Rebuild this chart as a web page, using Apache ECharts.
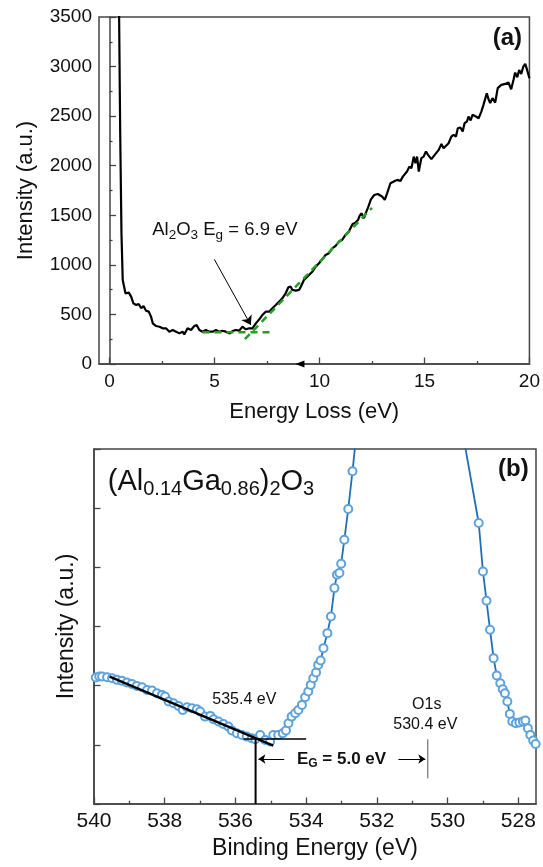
<!DOCTYPE html>
<html><head><meta charset="utf-8">
<script src="https://cdn.jsdelivr.net/npm/echarts@6/dist/echarts.min.js"></script>
<style>html,body{margin:0;padding:0;background:#fff}#c{width:543px;height:867px}</style>
</head><body><div id="c"></div>
<script>
// ---------- Panel (a): REELS energy loss ----------
const lossEnergy = [0.44, 0.51, 0.57, 0.63, 0.76, 0.92, 1.03, 1.14, 1.27, 1.39, 1.51, 1.62, 1.74, 1.87, 1.98, 2.06, 2.22, 2.38, 2.53, 2.69,
  2.85, 3.01, 3.17, 3.33, 3.48, 3.56, 3.72, 3.88, 4.04, 4.15, 4.28, 4.43, 4.59, 4.75, 4.91, 5.07, 5.23, 5.38, 5.54, 5.73,
  5.86, 6.02, 6.18, 6.33, 6.49, 6.65, 6.81, 6.97, 7.13, 7.28, 7.44, 7.60, 7.76, 7.92, 8.08, 8.23, 8.39, 8.52, 8.63, 8.71,
  8.87, 9.03, 9.11, 9.26, 9.42, 9.50, 9.66, 9.82, 9.98, 10.13, 10.29, 10.45, 10.61, 10.77, 10.93, 11.08, 11.24, 11.40, 11.58, 11.71,
  11.84, 11.91, 12.00, 12.12, 12.20, 12.33, 12.45, 12.61, 12.78, 12.98, 13.11, 13.22, 13.38, 13.54, 13.70, 13.86, 13.97, 14.06, 14.17, 14.28,
  14.38, 14.49, 14.57, 14.65, 14.73, 14.85, 14.96, 15.07, 15.17, 15.33, 15.49, 15.68, 15.81, 15.91, 16.00, 16.15, 16.28, 16.39, 16.50, 16.59,
  16.71, 16.82, 16.91, 17.02, 17.10, 17.20, 17.29, 17.45, 17.58, 17.71, 17.81, 17.89, 17.97, 18.05, 18.13, 18.24, 18.37, 18.49, 18.66, 18.85,
  19.00, 19.13, 19.24, 19.32, 19.42, 19.51, 19.61, 19.71, 19.80, 19.89, 20.00];
const lossIntensity = [3900, 2327, 1318, 848, 713, 720, 680, 612, 595, 605, 562, 585, 538, 528, 477, 410, 383, 376, 360, 360,
  326, 343, 326, 309, 326, 299, 360, 343, 383, 393, 343, 326, 343, 326, 326, 343, 326, 336, 326, 309,
  333, 343, 336, 376, 350, 360, 360, 410, 450, 494, 528, 528, 562, 595, 629, 663, 713, 774, 780, 747,
  740, 747, 780, 848, 881, 874, 931, 982, 1016, 1056, 1100, 1117, 1167, 1191, 1235, 1251, 1302, 1336, 1413, 1426,
  1453, 1493, 1520, 1470, 1520, 1587, 1661, 1705, 1715, 1689, 1655, 1722, 1823, 1840, 1857, 1847, 1890, 1874, 1941, 1991,
  1975, 2092, 2025, 2092, 1941, 2076, 2092, 2143, 2109, 2066, 2109, 2160, 2220, 2177, 2187, 2227, 2294, 2311, 2294, 2378,
  2385, 2345, 2429, 2445, 2496, 2456, 2513, 2496, 2479, 2546, 2614, 2604, 2731, 2671, 2631, 2681, 2637, 2782, 2815, 2825,
  2839, 2771, 2865, 2939, 2892, 2966, 2926, 3000, 3027, 2966, 2882];
const lossXTicks = [0, 5, 10, 15, 20];
const lossXMinorTicks = [2.5, 7.5, 12.5, 17.5];
const edgeFlatA = [[4.43, 320], [7.76, 320]];
const edgeSlopeA = [[6.45, 250], [12.5, 1575]];
const arrowA = [[4.99, 1056], [6.73, 393]];
const labelPosA = [5.5, 1350];
const tagPosA = [18.95, 3280];
const axisMarkA = [9.07, 0];

// ---------- Panel (b): XPS O1s loss ----------
const bindingEnergy = [539.95, 539.85, 539.77, 539.63, 539.49, 539.35, 539.21, 539.07, 538.93, 538.79, 538.64, 538.50, 538.36, 538.22, 538.08, 537.99, 537.89, 537.75, 537.61, 537.49,
  537.37, 537.23, 537.09, 537.00, 536.86, 536.71, 536.62, 536.48, 536.34, 536.20, 536.10, 535.96, 535.82, 535.68, 535.54, 535.44, 535.30, 535.16, 535.02, 534.93,
  534.79, 534.66, 534.57, 534.50, 534.41, 534.31, 534.22, 534.12, 534.03, 533.94, 533.87, 533.80, 533.72, 533.66, 533.59, 533.51, 533.40, 533.30, 533.20, 533.13,
  533.06, 533.01, 532.92, 532.81, 532.69, 532.50, 531.60, 530.50, 529.90, 529.70, 529.12, 529.00, 528.90, 528.80, 528.70, 528.61, 528.51, 528.44, 528.38, 528.31,
  528.24, 528.17, 528.07, 527.97, 527.87, 527.80, 527.73, 527.66, 527.58, 527.51];
const xpsIntensity = [2.138, 2.155, 2.154, 2.143, 2.126, 2.098, 2.081, 2.053, 2.030, 1.996, 1.974, 1.928, 1.917, 1.872, 1.844, 1.816, 1.731, 1.703, 1.658, 1.590,
  1.635, 1.618, 1.601, 1.562, 1.477, 1.489, 1.432, 1.393, 1.353, 1.308, 1.241, 1.196, 1.167, 1.139, 1.111, 1.094, 1.167, 1.083, 1.055, 1.167,
  1.167, 1.196, 1.241, 1.365, 1.477, 1.534, 1.590, 1.675, 1.805, 1.900, 2.013, 2.126, 2.222, 2.351, 2.425, 2.634, 2.888, 3.170, 3.649, 3.875,
  3.903, 4.061, 4.467, 4.986, 5.623, 6.70, 22, 40, 15, 6.70, 4.749, 3.931, 3.435, 2.944, 2.465, 2.171, 2.042, 1.940, 1.873, 1.732,
  1.523, 1.393, 1.365, 1.376, 1.393, 1.410, 1.280, 1.168, 1.072, 1.015];
const bindingXTicks = [528, 530, 532, 534, 536, 538, 540];
const bindingXMinorTicks = [529, 531, 533, 535, 537, 539];
const fitLineB = [[539.56, 2.154], [534.93, 0.986]];
const baseLineB = [[535.77, 1.10], [534.0, 1.10]];
const onsetLineB = [[535.43, 1.10], [535.43, 0]];
const o1sTickB = [[530.56, 0.434], [530.56, 1.094]];
const gapArrowLeftB = [[534.62, 0.76], [535.35, 0.76]];
const gapArrowRightB = [[531.39, 0.76], [530.63, 0.76]];
const formulaPosB = [539.61, 5.45];
const tagPosB = [528.14, 5.65];
const onsetLabelPosB = [535.75, 1.77];
const o1sLabelPosB = [530.59, 1.675];
const o1sValuePosB = [530.63, 1.337];
const gapLabelPosB = [533.0, 0.76];

const FONT = '"Liberation Sans", Arial, sans-serif';
const AX = '#444';
const TXT = '#111';

function zip(xs, ys) { return xs.map((x, i) => [x, ys[i]]); }
function textPoint(coord, formatter, extra) {
  return {
    coord: coord,
    symbol: 'circle', symbolSize: 0,
    label: Object.assign({ show: true, position: 'inside', formatter: formatter, color: TXT, fontFamily: FONT }, extra)
  };
}

const chart = echarts.init(document.getElementById('c'), null, { renderer: 'canvas' });
chart.setOption({
  animation: false,
  backgroundColor: '#fff',
  textStyle: { fontFamily: FONT },
  grid: [
    { left: 99, top: 17, right: 11, bottom: 503, show: true, borderColor: AX, borderWidth: 1.5 },
    { left: 94, top: 449, right: 7, bottom: 63, show: true, borderColor: AX, borderWidth: 1.5 }
  ],
  xAxis: [
    { gridIndex: 0, type: 'value', min: -0.5, max: 20, position: 'bottom',
      name: 'Energy Loss (eV)', nameLocation: 'middle', nameGap: 37,
      nameTextStyle: { fontSize: 22, color: TXT, fontFamily: FONT },
      axisLine: { lineStyle: { color: AX, width: 1.5 } },
      axisTick: { inside: true, length: 6.5, customValues: lossXTicks, lineStyle: { color: AX, width: 1.3 } },
      axisLabel: { customValues: lossXTicks, fontSize: 19, color: TXT, margin: 8, fontFamily: FONT },
      splitLine: { show: false } },
    { gridIndex: 0, type: 'value', min: -0.5, max: 20, position: 'bottom',
      axisLine: { show: false },
      axisTick: { inside: true, length: 3, customValues: lossXMinorTicks, lineStyle: { color: AX, width: 1.3 } },
      axisLabel: { show: false, customValues: lossXMinorTicks },
      splitLine: { show: false } },
    { gridIndex: 1, type: 'value', min: 527.5, max: 540, inverse: true, position: 'bottom',
      name: 'Binding Energy (eV)', nameLocation: 'middle', nameGap: 33,
      nameTextStyle: { fontSize: 23, color: TXT, fontFamily: FONT },
      axisLine: { lineStyle: { color: AX, width: 1.5 } },
      axisTick: { inside: true, length: 6.5, customValues: bindingXTicks, lineStyle: { color: AX, width: 1.3 } },
      axisLabel: { customValues: bindingXTicks, fontSize: 21, color: TXT, margin: 7, fontFamily: FONT },
      splitLine: { show: false } },
    { gridIndex: 1, type: 'value', min: 527.5, max: 540, inverse: true, position: 'bottom',
      axisLine: { show: false },
      axisTick: { inside: true, length: 3.3, customValues: bindingXMinorTicks, lineStyle: { color: AX, width: 1.3 } },
      axisLabel: { show: false, customValues: bindingXMinorTicks },
      splitLine: { show: false } }
  ],
  yAxis: [
    { gridIndex: 0, type: 'value', min: 0, max: 3500, interval: 500,
      name: 'Intensity (a.u.)', nameLocation: 'middle', nameGap: 62,
      nameTextStyle: { fontSize: 22, color: TXT, fontFamily: FONT },
      axisLine: { show: true, lineStyle: { color: AX, width: 1.5 } },
      axisTick: { show: true, inside: true, length: 6.5, lineStyle: { color: AX, width: 1.3 } },
      minorTick: { show: true, splitNumber: 2, length: 3, lineStyle: { color: AX, width: 1.3 } },
      axisLabel: { fontSize: 19, color: TXT, margin: 7, fontFamily: FONT, formatter: v => String(v) },
      splitLine: { show: false }, minorSplitLine: { show: false } },
    { gridIndex: 1, type: 'value', min: 0, max: 6, interval: 1,
      name: 'Intensity (a.u.)', nameLocation: 'middle', nameGap: 16,
      nameTextStyle: { fontSize: 23, color: TXT, fontFamily: FONT },
      axisLine: { show: true, lineStyle: { color: AX, width: 1.5 } },
      axisTick: { show: true, inside: true, length: 6.5, lineStyle: { color: AX, width: 1.3 } },
      axisLabel: { show: false },
      splitLine: { show: false } }
  ],
  series: [
    // Panel (a)
    { type: 'line', xAxisIndex: 0, yAxisIndex: 0, data: zip(lossEnergy, lossIntensity),
      showSymbol: false, clip: true, lineStyle: { color: '#000', width: 2.2 }, z: 3 },
    { type: 'line', xAxisIndex: 0, yAxisIndex: 0, data: edgeFlatA, showSymbol: false,
      lineStyle: { color: '#22a022', width: 2.5, type: [7, 5] }, z: 4 },
    { type: 'line', xAxisIndex: 0, yAxisIndex: 0, data: edgeSlopeA, showSymbol: false,
      lineStyle: { color: '#22a022', width: 2.5, type: [7, 5] }, z: 4 },
    { type: 'line', xAxisIndex: 0, yAxisIndex: 0, data: [], z: 5,
      markLine: { silent: true, symbol: ['none', 'arrow'], symbolSize: 9,
        label: { show: false }, lineStyle: { color: '#000', width: 1, type: 'solid' },
        data: [[{ coord: arrowA[0] }, { coord: arrowA[1] }]] },
      markPoint: { silent: true, data: [
        textPoint(labelPosA, 'Al{s|2}O{s|3} E{s|g} = 6.9 eV',
          { fontSize: 18.5, lineHeight: 20, rich: { s: { fontSize: 13.5, height: 10, verticalAlign: 'bottom', fontFamily: FONT, color: TXT } } }),
        textPoint(tagPosA, '(a)', { fontSize: 24, fontWeight: 'bold' }),
        { coord: axisMarkA, symbol: 'triangle', symbolSize: [7, 9], symbolRotate: 90,
          itemStyle: { color: '#000' }, label: { show: false } }
      ] } },
    // Panel (b)
    { type: 'line', xAxisIndex: 2, yAxisIndex: 1, data: zip(bindingEnergy, xpsIntensity),
      showSymbol: true, showAllSymbol: true, symbol: 'emptyCircle', symbolSize: 8, clip: true,
      lineStyle: { color: '#1f6fb8', width: 1.8 },
      itemStyle: { color: '#5ea2dc', borderWidth: 1.4 }, z: 3 },
    { type: 'line', xAxisIndex: 2, yAxisIndex: 1, data: fitLineB, showSymbol: false,
      lineStyle: { color: '#000', width: 2.5 }, z: 5 },
    { type: 'line', xAxisIndex: 2, yAxisIndex: 1, data: baseLineB, showSymbol: false,
      lineStyle: { color: '#000', width: 1.5 }, z: 5 },
    { type: 'line', xAxisIndex: 2, yAxisIndex: 1, data: onsetLineB, showSymbol: false,
      lineStyle: { color: '#000', width: 2 }, z: 5 },
    { type: 'line', xAxisIndex: 2, yAxisIndex: 1, data: o1sTickB, showSymbol: false,
      lineStyle: { color: '#555', width: 1 }, z: 5 },
    { type: 'line', xAxisIndex: 2, yAxisIndex: 1, data: [], z: 6,
      markLine: { silent: true, symbol: ['none', 'arrow'], symbolSize: 7,
        label: { show: false }, lineStyle: { color: '#000', width: 1, type: 'solid' },
        data: [
          [{ coord: gapArrowLeftB[0] }, { coord: gapArrowLeftB[1] }],
          [{ coord: gapArrowRightB[0] }, { coord: gapArrowRightB[1] }]
        ] },
      markPoint: { silent: true, data: [
        textPoint(formulaPosB, '(Al{s|0.14}Ga{s|0.86}){s|2}O{s|3}',
          { position: 'right', distance: 0, fontSize: 29, lineHeight: 29,
            rich: { s: { fontSize: 20, height: 13.5, verticalAlign: 'bottom', fontFamily: FONT, color: TXT } } }),
        textPoint(tagPosB, '(b)', { fontSize: 24, fontWeight: 'bold' }),
        textPoint(onsetLabelPosB, '535.4 eV', { fontSize: 16 }),
        textPoint(o1sLabelPosB, 'O1s', { fontSize: 16 }),
        textPoint(o1sValuePosB, '530.4 eV', { fontSize: 16 }),
        textPoint(gapLabelPosB, 'E{g|G} = 5.0 eV',
          { fontSize: 17, fontWeight: 'bold', lineHeight: 19,
            rich: { g: { fontSize: 12, fontWeight: 'bold', height: 9.5, verticalAlign: 'bottom', fontFamily: FONT, color: TXT } } })
      ] } }
  ]
});
</script>
</body></html>
